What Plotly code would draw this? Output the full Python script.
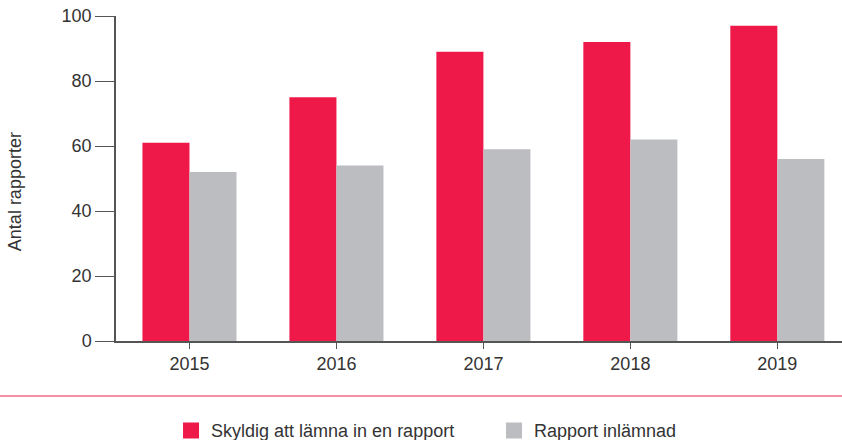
import plotly.graph_objects as go

years = ["2015", "2016", "2017", "2018", "2019"]
skyldig = [61, 75, 89, 92, 97]
inlamnad = [52, 54, 59, 62, 56]
series_names = ["Skyldig att lämna in en rapport", "Rapport inlämnad"]
colors = ["#EE1849", "#BCBDC0"]
y_title = "Antal rapporter"

FONT = "Liberation Sans, Arial, sans-serif"

fig = go.Figure()
for name, vals, col in zip(series_names, [skyldig, inlamnad], colors):
    fig.add_trace(go.Bar(x=years, y=vals, name=name, marker_color=col,
                         marker_line_width=0, showlegend=False))
for name, col in zip(series_names, colors):
    fig.add_trace(go.Scatter(x=[None], y=[None], mode="markers", name=name,
                             marker=dict(symbol="square", size=19, color=col)))

fig.update_layout(
    width=842, height=440,
    margin=dict(l=116, r=0, t=16, b=99, autoexpand=False),
    paper_bgcolor="white", plot_bgcolor="white",
    barmode="group", bargap=0.36, bargroupgap=0,
    font=dict(family=FONT, size=18, color="#333333"),
    showlegend=True,
    legend=dict(orientation="h", x=0.0758, xanchor="left", y=-0.276, yanchor="middle",
                font=dict(size=18, color="#333333"), itemsizing="trace",
                itemwidth=30, entrywidth=278, entrywidthmode="pixels", tracegroupgap=0),
    xaxis=dict(range=[-0.5, 4.44], showline=True, linecolor="#555555", linewidth=1.5,
               ticks="outside", ticklen=6, tickcolor="#555555", showgrid=False,
               tickfont=dict(size=18)),
    yaxis=dict(range=[0, 100], tickvals=[0, 20, 40, 60, 80, 100], showline=True,
               linecolor="#555555", linewidth=1.5, ticks="outside", ticklen=19,
               tickcolor="#555555", showgrid=False, zeroline=False,
               tickfont=dict(size=18)),
    annotations=[dict(text=y_title, xref="paper", yref="paper", x=(15 - 116) / 726,
                      y=0.458, xanchor="center", yanchor="middle", textangle=-90,
                      showarrow=False, font=dict(size=18, color="#333333"))],
    shapes=[dict(type="line", xref="paper", yref="paper", x0=-116/726, x1=1,
                 y0=-55/325, y1=-55/325, line=dict(color="#F06A88", width=1.5))],
)

fig.write_html("out.html")
